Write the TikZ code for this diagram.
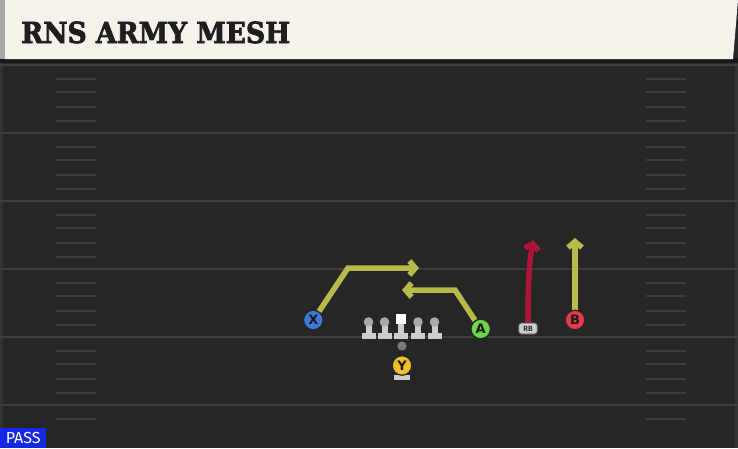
\documentclass[tikz,border=0pt]{standalone}
\usepackage{fontspec}
\setmainfont{DejaVu Sans}
\newfontfamily\titlefont[FakeBold=2.5]{DejaVu Serif}
\newfontfamily\labfont{Fira Sans}
\usetikzlibrary{arrows.meta}
\definecolor{fieldbg}{RGB}{38,38,38}
\definecolor{yardline}{RGB}{62,62,62}
\definecolor{hashc}{RGB}{60,60,60}
\definecolor{cream}{RGB}{245,242,235}
\definecolor{edgegrey}{RGB}{168,168,168}
\definecolor{routeol}{RGB}{184,186,74}
\definecolor{routered}{RGB}{172,20,56}
\definecolor{pblue}{RGB}{62,122,222}
\definecolor{pgreen}{RGB}{112,212,72}
\definecolor{pred}{RGB}{230,58,72}
\definecolor{pyellow}{RGB}{240,192,42}
\definecolor{linegrey}{RGB}{205,205,205}
\definecolor{headgrey}{RGB}{170,170,170}
\definecolor{passblue}{RGB}{20,40,230}
\definecolor{titlec}{RGB}{30,30,30}
\tikzset{
  player/.style={circle, draw=black!85, line width=1.2pt, minimum size=19.5pt, inner sep=0pt,
    font=\bfseries\fontsize{13}{13}\selectfont, text=black!90},
  route/.style={line width=5.5pt, color=routeol, line join=miter,
    -{Straight Barb[length=6pt,width=14pt]}},
  redroute/.style={route, color=routered},
  hashmark/.style={hashc, line width=2pt},
  yard/.style={yardline, line width=2pt},
  lmgrey/.style={fill=linegrey, draw=none},
  rbbox/.style={fill=linegrey, draw=black!70, line width=0.8pt, rounded corners=2.5pt,
    minimum width=18.5pt, minimum height=11pt, inner sep=0pt,
    font=\labfont\bfseries\fontsize{7.5}{7.5}\selectfont, text=black!80}
}
\begin{document}
\begin{tikzpicture}[x=1pt,y=-1pt]
\useasboundingbox (0,0) rectangle (738,448);
% field
\fill[fieldbg] (0,0) rectangle (738,448);
% borders
\fill[black!25!fieldbg!90!white] (0,59) rectangle (3,448);
\fill[black!25!fieldbg!90!white] (735,59) rectangle (738,448);
% yard lines
\foreach \y in {65,133,201,269,337,405}{
  \draw[yard] (0,\y) -- (738,\y);
}
% hash marks
\foreach \y in {65,133,201,269,337}{
  \foreach \d in {14,27,41.5,55.5}{
    \draw[hashmark] (56,\y+\d) -- (96,\y+\d);
    \draw[hashmark] (646,\y+\d) -- (686,\y+\d);
  }
}
\draw[hashmark] (56,419) -- (96,419);
\draw[hashmark] (646,419) -- (686,419);
% header
\fill[black!90] (0,58) rectangle (738,63);
\fill[cream] (5,0) -- (738,0) -- (733,59) -- (5,59) -- cycle;
\fill[edgegrey] (0,0) rectangle (5,59);
\node[anchor=base west, inner sep=0pt, text=titlec] (title) at (21,43)
  {\resizebox{269pt}{21.5pt}{\titlefont\bfseries RNS ARMY MESH}};
% offensive line
\foreach \x/\n in {368.5/l1,384.5/l2,418/l4,434.5/l5}{
  \fill[lmgrey] (\x-3,322) rectangle (\x+3,335);
  \fill[lmgrey] (\x-7,333) rectangle (\x+7,339);
  \fill[headgrey] (\x,322) circle (4.8);
  \node[inner sep=0pt, minimum size=0pt] (\n) at (\x,322) {};
}
\fill[lmgrey] (398,322) rectangle (404,335);
\fill[lmgrey] (394,333) rectangle (408,339);
\node[fill=white, minimum size=10pt, inner sep=0pt] (center) at (401,319) {};
% ball
\fill[linegrey!60!black] (402,346) circle (4.6);
\node[inner sep=0pt, minimum size=9pt] (ball) at (402,346) {};
% Y base
\fill[lmgrey] (399,372) rectangle (405,376);
\fill[lmgrey] (394,374.5) rectangle (410,380);
% route coordinates
\coordinate (x1) at (348,268);
\coordinate (x2) at (419,268);
\coordinate (a1) at (455,290);
\coordinate (a2) at (402,290);
\coordinate (rbend) at (533.5,240);
\coordinate (bend) at (575,238);
% players
\node[player, fill=pblue] (X) at (313.3,320) {X};
\node[player, fill=pgreen] (A) at (480.7,329) {A};
\node[player, fill=pred] (B) at (575,320) {B};
\node[player, fill=pyellow] (Y) at (402,365.5) {Y};
\node[rbbox] (RB) at (528,328.5) {RB};
% routes
\draw[route] (X) -- (x1) -- (x2);
\draw[route] (A) -- (a1) -- (a2);
\draw[redroute] (RB.north) .. controls (528,285) and (529,262) .. (rbend);
\draw[route] (B) -- (bend);
% redraw players on top of routes
\node[player, fill=pblue] at (X) {X};
\node[player, fill=pgreen] at (A) {A};
\node[player, fill=pred] at (B) {B};
\node[rbbox] at (RB) {RB};
% PASS tag
\node[fill=passblue, text=white, anchor=south west, minimum width=46pt, minimum height=20pt,
  inner sep=0pt, font=\labfont\fontsize{16}{16}\selectfont] (pass) at (0,448) {PASS};
\end{tikzpicture}
\end{document}
